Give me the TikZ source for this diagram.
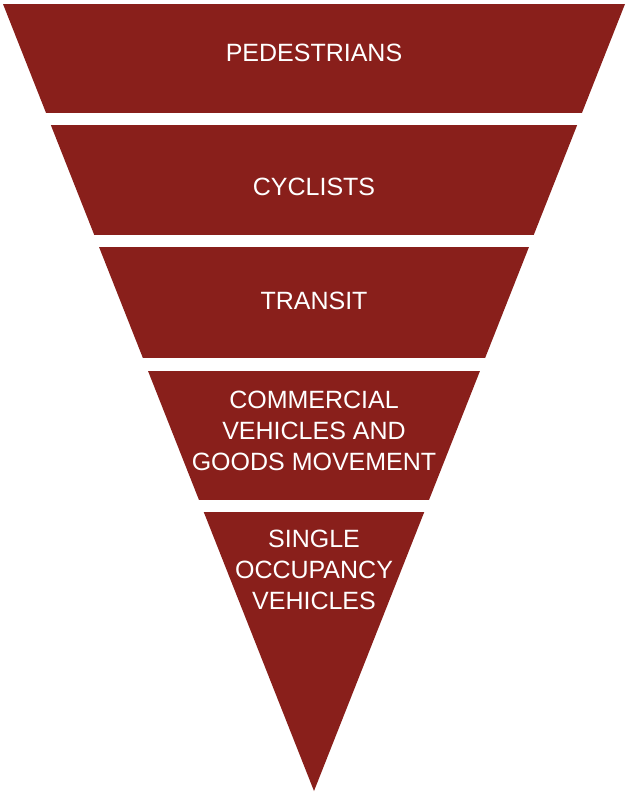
\documentclass[tikz,border=0pt]{standalone}
\usepackage{fontspec}
\setmainfont{Liberation Sans}
\usepackage{tikz}
\usetikzlibrary{calc}

\definecolor{hierred}{RGB}{137,31,27}

\begin{document}
\begin{tikzpicture}[x=1pt,y=-1pt,inner sep=0pt,outer sep=0pt,
    every node/.style={text=white,align=center,font=\fontsize{25}{31}\selectfont}]
    % page
    \useasboundingbox (0,0) rectangle (628,793);
    % inverted triangle
    \fill[hierred] (3,4) -- (625,4) -- (314,791) -- cycle;
    % white gaps between the levels
    \foreach \gtop/\gbot in {113/125, 235/247, 358/371, 500/512}
        \fill[white] (0,\gtop) rectangle (628,\gbot);
    % labels
    \node (pedestrians) at (314,53)  {PEDESTRIANS};
    \node (cyclists)    at (314,187) {CYCLISTS};
    \node (transit)     at (314,301) {TRANSIT};
    \node (commercial)  at (314,431) {COMMERCIAL\\VEHICLES AND\\GOODS MOVEMENT};
    \node (single)      at (314,570) {SINGLE\\OCCUPANCY\\VEHICLES};
\end{tikzpicture}
\end{document}
